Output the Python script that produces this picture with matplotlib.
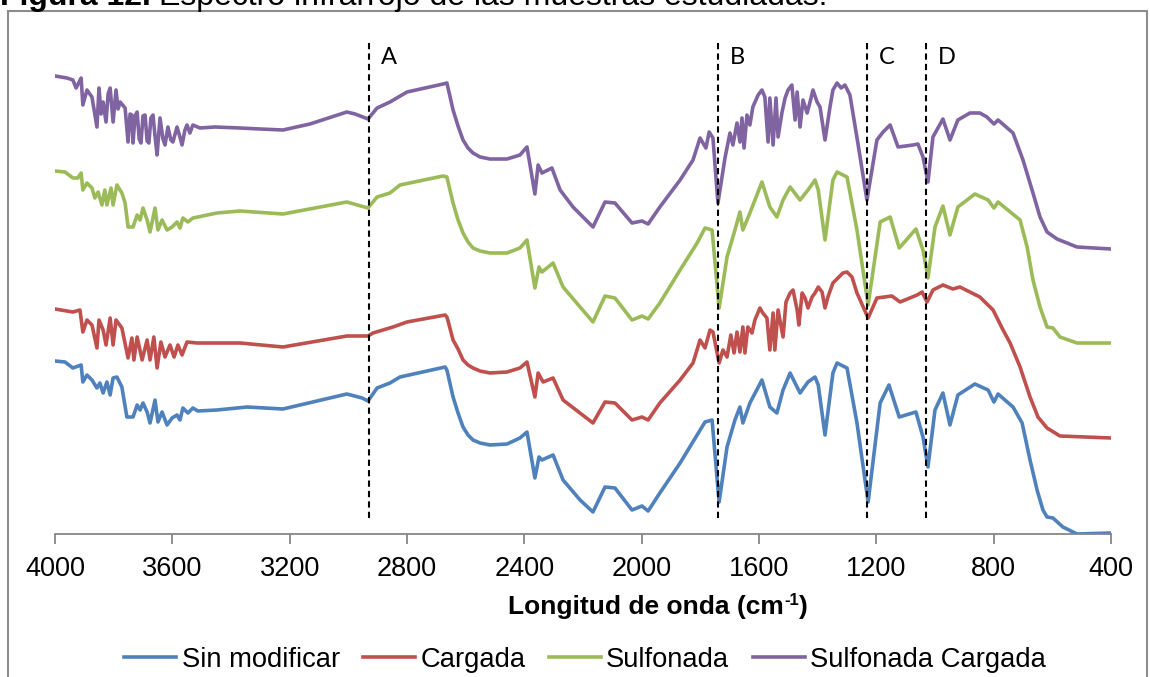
import matplotlib
matplotlib.use('Agg')
import matplotlib.pyplot as plt
from matplotlib.patches import Rectangle

plt.rcParams['font.family'] = ['Liberation Sans', 'DejaVu Sans']

# espectros (numero de onda, transmitancia relativa desplazada)
wn_sin = [4000, 3966, 3939, 3911, 3905, 3891, 3874, 3857, 3847, 3836, 3823, 3812, 3802, 3789, 3772, 3755,
          3734, 3720, 3710, 3700, 3686, 3676, 3659, 3649, 3635, 3618, 3601, 3584, 3574, 3564, 3547, 3530,
          3513, 3448, 3345, 3223, 3005, 2953, 2933, 2902, 2858, 2824, 2670, 2664, 2660, 2643, 2626, 2609,
          2592, 2575, 2551, 2517,
          2459, 2415, 2391, 2364, 2350, 2340, 2302, 2268, 2210, 2166, 2125, 2091, 2033, 1999, 1978, 1938,
          1869, 1811, 1784, 1760, 1736, 1709, 1682, 1665, 1655, 1631, 1590, 1563, 1539, 1518, 1494, 1460,
          1433, 1409, 1398, 1375, 1348, 1334, 1300, 1266, 1228, 1187, 1157, 1122, 1065, 1041, 1024, 1000,
          973, 949, 922, 864, 819, 799, 785, 734, 703, 676, 652, 632, 618, 598, 564, 516, 400]
t_sin = [173, 172, 166, 169, 152, 159, 154, 146, 151, 141, 152, 139, 156, 157, 147, 117,
         117, 129, 124, 131, 122, 111, 134, 112, 122, 109, 116, 119, 114, 126, 121, 126,
         123, 124, 127, 125, 140, 136, 133, 146, 151, 157, 167, 164, 159, 137, 121, 107,
         99, 94, 91, 89,
         90, 96, 102, 56, 77, 74, 79, 54, 34, 22, 47, 46, 24, 28, 23, 41,
         71, 99, 112, 114, 32, 87, 114, 127, 111, 131, 154, 127, 121, 144, 161, 141,
         152, 157, 149, 99, 161, 171, 166, 111, 32, 131, 149, 117, 122, 97, 67, 124,
         141, 109, 139, 150, 144, 132, 140, 127, 111, 74, 44, 24, 17, 16, 7, 0, 1]

wn_car = [4000, 3939, 3915, 3905, 3891, 3874, 3857, 3850, 3836, 3826, 3812, 3802, 3792, 3772, 3751, 3738,
          3731, 3720, 3703, 3686, 3676, 3663, 3652, 3639, 3625, 3608, 3594, 3581, 3567, 3550, 3516, 3369,
          3223, 3005, 2933, 2916, 2848, 2800, 2670, 2664, 2660, 2643, 2626, 2609, 2592, 2575, 2551, 2517,
          2459, 2415, 2391, 2364,
          2353, 2336, 2302, 2268, 2210, 2166, 2125, 2091, 2033, 1999, 1978, 1938, 1869, 1825, 1801, 1784,
          1767, 1757, 1743, 1736, 1723, 1709, 1696, 1685, 1675, 1665, 1655, 1648, 1638, 1624, 1614, 1597,
          1587, 1573, 1563, 1552, 1546, 1535, 1518, 1508, 1494, 1484, 1470, 1464, 1453, 1443, 1433, 1419,
          1409, 1398, 1385, 1375, 1365, 1348, 1331, 1314, 1300, 1283, 1266, 1228, 1198, 1147, 1119, 1061,
          1044, 1027, 1007, 973, 939, 915, 847, 802, 768, 744, 710, 676, 649, 618, 574, 400]
t_car = [225, 222, 224, 202, 214, 209, 186, 214, 204, 189, 216, 189, 214, 206, 176, 196,
         174, 197, 174, 194, 174, 197, 166, 192, 177, 189, 177, 189, 179, 192, 191, 191,
         187, 198, 198, 201, 207, 212, 219, 217, 213, 194, 185, 174, 169, 166, 163, 161,
         162, 166, 172, 137,
         161, 152, 156, 134, 121, 111, 132, 131, 114, 117, 114, 131, 154, 171, 194, 186,
         204, 202, 181, 171, 184, 177, 199, 181, 202, 182, 207, 181, 207, 201, 214, 226,
         221, 216, 184, 221, 184, 224, 197, 232, 241, 244, 224, 209, 241, 236, 226, 237,
         241, 247, 242, 226, 237, 251, 256, 261, 262, 257, 241, 216, 236, 238, 232, 239,
         242, 232, 244, 249, 245, 247, 237, 224, 204, 191, 167, 137, 117, 106, 98, 96]

wn_sul = [4000, 3966, 3939, 3922, 3911, 3905, 3891, 3874, 3864, 3853, 3840, 3830, 3823, 3809, 3802, 3789,
          3772, 3761, 3751, 3734, 3720, 3710, 3700, 3686, 3676, 3659, 3649, 3635, 3618, 3601, 3584, 3574,
          3564, 3547, 3530, 3513, 3448, 3369, 3223, 3005, 2933, 2902, 2858, 2824, 2677, 2664, 2660, 2643,
          2626, 2609, 2592, 2575, 2551,
          2517, 2459, 2415, 2391, 2364, 2350, 2340, 2302, 2268, 2210, 2166, 2125, 2091, 2033, 1999,
          1978, 1938, 1869, 1811, 1784, 1760, 1736, 1709, 1682, 1665, 1655, 1631, 1590, 1563, 1539, 1518,
          1494, 1460, 1433, 1409, 1398, 1375, 1348, 1334, 1300, 1266, 1228, 1187, 1153, 1122, 1065, 1041,
          1024, 1000, 973, 949, 922, 864, 819, 799, 785, 710, 686, 666, 642, 618, 598, 574, 516, 400]
t_sul = [363, 362, 356, 356, 361, 344, 351, 346, 336, 342, 329, 344, 329, 346, 329, 349,
         341, 331, 307, 307, 319, 314, 326, 314, 302, 326, 304, 314, 304, 307, 312, 306,
         316, 312, 316, 317, 321, 323, 320, 332, 326, 337, 341, 349, 358, 357, 352, 331,
         314, 301, 292, 286, 283,
         281, 281, 286, 294, 246, 267, 262, 271, 247, 227, 212, 238, 236, 214, 218,
         215, 231, 264, 291, 306, 304, 226, 277, 304, 322, 304, 321, 352, 327, 317, 334,
         347, 334, 344, 354, 344, 294, 354, 362, 357, 304, 229, 312, 317, 286, 305, 284,
         256, 307, 328, 299, 327, 340, 334, 326, 332, 314, 287, 254, 227, 207, 206, 197, 191, 191]

wn_sc = [4000, 3959, 3939, 3928, 3911, 3905, 3891, 3874, 3857, 3850, 3843, 3836, 3826, 3819, 3812, 3802,
         3792, 3785, 3778, 3761, 3751, 3744, 3738, 3734, 3727, 3720, 3713, 3707, 3700, 3693, 3686, 3680,
         3673, 3666, 3659, 3652, 3642, 3632, 3625, 3615, 3605, 3598, 3584, 3574, 3567, 3557, 3550, 3540,
         3530, 3506, 3455, 3369, 3301, 3223, 3131, 3005, 2977, 2933, 2902, 2858, 2800, 2677,
         2664, 2660, 2643, 2626, 2609, 2592, 2575, 2551, 2517, 2459, 2415, 2391, 2364, 2353, 2340, 2306,
         2278, 2234, 2166, 2125,
         2091, 2033, 1999, 1978, 1938, 1869, 1825, 1801, 1781, 1770, 1757, 1740, 1716, 1699, 1689, 1675,
         1665, 1658, 1651, 1641, 1631, 1621, 1603, 1590, 1580, 1569, 1563, 1552, 1542, 1535, 1522, 1511,
         1501, 1488, 1477, 1470, 1460, 1450, 1436, 1426, 1416, 1402, 1392, 1375, 1358, 1348, 1334, 1320,
         1307, 1290, 1263, 1232, 1198, 1177, 1153, 1126, 1075, 1058, 1041, 1024, 1007, 973, 949, 922,
         881, 847, 823, 799, 785, 734, 700, 666, 642, 618, 584, 516, 400]
t_sc = [458, 456, 454, 446, 456, 429, 444, 437, 407, 446, 420, 432, 412, 440, 446, 412,
        444, 425, 432, 426, 392, 420, 419, 391, 418, 422, 395, 391, 418, 419, 393, 391,
        416, 419, 398, 379, 416, 395, 389, 407, 394, 392, 407, 397, 389, 404, 409, 401,
        409, 406, 407, 406, 405, 404, 410, 422, 420, 415, 426, 432, 442, 450,
        451, 446, 424, 408, 394, 386, 381, 377, 375, 375, 379, 387, 340, 369, 361, 366,
        344, 327, 307, 332,
        331, 311, 313, 310, 327, 354, 374, 396, 386, 402, 396, 331, 376, 401, 389, 411,
        392, 416, 386, 419, 409, 427, 439, 444, 437, 392, 436, 389, 436, 397, 421, 436,
        444, 449, 414, 442, 407, 434, 421, 432, 444, 432, 427, 394, 427, 444, 451, 446,
        449, 439, 391, 334, 394, 402, 409, 387, 389, 390, 377, 352, 397, 415, 394, 414,
        421, 421, 417, 410, 414, 401, 374, 341, 317, 302, 295, 287, 285]

bandas = [2930, 1740, 1232, 1031]
etiquetas = ['A', 'B', 'C', 'D']

W, H = 1150, 677
fig = plt.figure(figsize=(11.5, 6.77), dpi=100)
ax = fig.add_axes([55 / W, 143 / H, 1056 / W, 500 / H])

lw = 2.6
ax.plot(wn_sin, t_sin, color='#4F81BD', lw=lw, label='Sin modificar', solid_joinstyle='round')
ax.plot(wn_car, t_car, color='#C0504D', lw=lw, label='Cargada', solid_joinstyle='round')
ax.plot(wn_sul, t_sul, color='#9BBB59', lw=lw, label='Sulfonada', solid_joinstyle='round')
ax.plot(wn_sc, t_sc, color='#8064A2', lw=lw, label='Sulfonada Cargada', solid_joinstyle='round')

for b, e in zip(bandas, etiquetas):
    ax.plot([b, b], [16, 492], color='black', lw=1.5, ls=(0, (3, 2)))
    ax.text(b - 40, 476, e, fontsize=17, family=['Lato', 'DejaVu Sans'], va='center', ha='left')

ax.set_xlim(4000, 400)
ax.set_ylim(0, 500)
ax.set_xticks([4000, 3600, 3200, 2800, 2400, 2000, 1600, 1200, 800, 400])
ax.tick_params(axis='x', direction='out', length=7, width=1.3, color='#868686', labelsize=19.5, pad=9)
ax.set_yticks([])
for s in ['top', 'right', 'left']:
    ax.spines[s].set_visible(False)
ax.spines['bottom'].set_color('#868686')
ax.spines['bottom'].set_linewidth(1.3)

fig.legend(loc='center', bbox_to_anchor=(585 / W, 17 / H), ncol=4, frameon=False, fontsize=19.7,
           handlelength=1.9, handletextpad=0.2, columnspacing=0.85)

# marco del grafico
fig.patches.append(Rectangle((8 / W, -0.05), 1139 / W, 1.05 - 11 / H, transform=fig.transFigure,
                             fill=False, edgecolor='#8C8C8C', lw=1.5))

# titulo del eje x con superindice, centrado donde esta en el original
fig.canvas.draw()
r = fig.canvas.get_renderer()
yb = 1 - 614 / H
p1 = fig.text(0, yb, 'Longitud de onda (cm', fontsize=19, fontweight='bold', va='baseline')
p2 = fig.text(0, yb + 9 / H, '-1', fontsize=12, fontweight='bold', va='baseline')
p3 = fig.text(0, yb, ')', fontsize=19, fontweight='bold', va='baseline')
w1 = p1.get_window_extent(r).width
w2 = p2.get_window_extent(r).width
w3 = p3.get_window_extent(r).width
x0 = 658 - (w1 + w2 + w3) / 2
p1.set_x(x0 / W)
p2.set_x((x0 + w1) / W)
p3.set_x((x0 + w1 + w2) / W)

# titulo de la figura, cortado arriba
t1 = fig.text(0, 1 - 5 / H, 'Figura 12.', fontsize=23, fontweight='bold', va='baseline', ha='left')
bb = t1.get_window_extent(r)
fig.text((bb.x1 + 8) / W, 1 - 5 / H, 'Espectro infrarrojo de las muestras estudiadas.',
         fontsize=23, va='baseline', ha='left')

fig.savefig('out.png', dpi=100)
